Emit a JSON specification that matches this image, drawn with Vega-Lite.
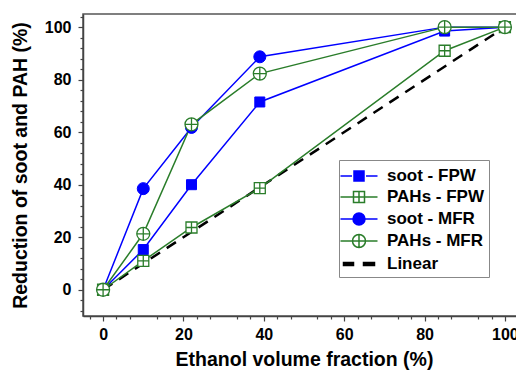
{
  "$schema": "https://vega.github.io/schema/vega-lite/v6.json",
  "autosize": {"type": "none"},
  "padding": {"left": 83, "top": 14, "right": 0, "bottom": 57},
  "width": 442,
  "height": 302,
  "background": "white",
  "config": {
    "view": {"stroke": "#555", "strokeWidth": 1.5},
    "axis": {
      "grid": false,
      "domainColor": "#444",
      "domainWidth": 1.5,
      "tickColor": "#444",
      "tickWidth": 1.2,
      "labelFont": "Liberation Sans",
      "labelFontSize": 16,
      "labelFontWeight": "bold",
      "labelColor": "black",
      "titleFont": "Liberation Sans",
      "titleFontSize": 19.5,
      "titleFontWeight": "bold",
      "titleColor": "black"
    },
    "legend": {
      "title": null, "orient": "none", "legendX": 256, "legendY": 146, "symbolSize": 400, "symbolStrokeWidth": 1.5,
      "labelFont": "Liberation Sans", "labelFontSize": 17, "labelFontWeight": "bold", "labelColor": "black",
      "padding": 5, "strokeColor": "#888", "fillColor": "white", "rowPadding": 2, "labelOffset": 17, "symbolOffset": 4
    }
  },
  "data": {
    "values": [
      {"series": "soot - FPW", "x": 0, "y": 0},
      {"series": "soot - FPW", "x": 10, "y": 15.3},
      {"series": "soot - FPW", "x": 22, "y": 40},
      {"series": "soot - FPW", "x": 39, "y": 71.5},
      {"series": "soot - FPW", "x": 85, "y": 98.5},
      {"series": "soot - FPW", "x": 100, "y": 100},
      {"series": "PAHs - FPW", "x": 0, "y": 0},
      {"series": "PAHs - FPW", "x": 10, "y": 11},
      {"series": "PAHs - FPW", "x": 22, "y": 23.7},
      {"series": "PAHs - FPW", "x": 39, "y": 38.7},
      {"series": "PAHs - FPW", "x": 85, "y": 91},
      {"series": "PAHs - FPW", "x": 100, "y": 100},
      {"series": "soot - MFR", "x": 0, "y": 0},
      {"series": "soot - MFR", "x": 10, "y": 38.5},
      {"series": "soot - MFR", "x": 22, "y": 61.8},
      {"series": "soot - MFR", "x": 39, "y": 88.7},
      {"series": "soot - MFR", "x": 85, "y": 100},
      {"series": "soot - MFR", "x": 100, "y": 100},
      {"series": "PAHs - MFR", "x": 0, "y": 0},
      {"series": "PAHs - MFR", "x": 10, "y": 21.3},
      {"series": "PAHs - MFR", "x": 22, "y": 63},
      {"series": "PAHs - MFR", "x": 39, "y": 82.3},
      {"series": "PAHs - MFR", "x": 85, "y": 100},
      {"series": "PAHs - MFR", "x": 100, "y": 100},
      {"series": "Linear", "x": 0, "y": 0},
      {"series": "Linear", "x": 100, "y": 100}
    ]
  },
  "resolve": {"axis": {"x": "independent", "y": "independent"}},
  "layer": [
    {
      "transform": [{"filter": "datum.series === 'Linear'"}],
      "mark": {"type": "line", "color": "black", "strokeWidth": 2.5, "strokeDash": [11, 8], "clip": true},
      "encoding": {
        "x": {"field": "x", "type": "quantitative", "scale": {"domain": [-5, 105], "nice": false, "zero": false},
          "axis": {"values": [0, 20, 40, 60, 80, 100], "tickSize": 5, "labelPadding": 5, "title": "Ethanol volume fraction (%)", "titlePadding": 8, "orient": "bottom"}},
        "y": {"field": "y", "type": "quantitative", "scale": {"domain": [-10, 105], "nice": false, "zero": false},
          "axis": {"values": [0, 20, 40, 60, 80, 100], "tickSize": 5, "labelPadding": 7, "title": "Reduction of soot and PAH (%)", "titlePadding": 14, "orient": "left"}}
      }
    },
    {
      "transform": [{"filter": "datum.series !== 'Linear'"}],
      "mark": {"type": "line", "strokeWidth": 1.5, "clip": true},
      "encoding": {
        "x": {"field": "x", "type": "quantitative", "axis": null},
        "y": {"field": "y", "type": "quantitative", "axis": null},
        "detail": {"field": "series"},
        "color": {"field": "series", "type": "nominal", "legend": null,
          "scale": {"domain": ["soot - FPW", "PAHs - FPW", "soot - MFR", "PAHs - MFR"], "range": ["#0000ff", "#2a7d2a", "#0000ff", "#2a7d2a"]}}
      }
    },
    {
      "transform": [{"filter": "datum.series === 'soot - FPW'"}],
      "mark": {"type": "point", "shape": "square", "size": 100, "filled": true, "fill": "#0000ff", "stroke": "#0000ff", "strokeWidth": 1, "opacity": 1},
      "encoding": {
        "x": {"field": "x", "type": "quantitative", "axis": null},
        "y": {"field": "y", "type": "quantitative", "axis": null}
      }
    },
    {
      "transform": [{"filter": "datum.series === 'PAHs - FPW'"}],
      "mark": {"type": "point", "shape": "M-1,-1H1V1H-1Z M-1,0H1 M0,-1V1", "size": 121, "filled": true, "fill": "white", "stroke": "#2a7d2a", "strokeWidth": 1.3, "opacity": 1},
      "encoding": {
        "x": {"field": "x", "type": "quantitative", "axis": null},
        "y": {"field": "y", "type": "quantitative", "axis": null}
      }
    },
    {
      "transform": [{"filter": "datum.series === 'soot - MFR'"}],
      "mark": {"type": "point", "shape": "circle", "size": 144, "filled": true, "fill": "#0000ff", "stroke": "#0000ff", "strokeWidth": 1, "opacity": 1},
      "encoding": {
        "x": {"field": "x", "type": "quantitative", "axis": null},
        "y": {"field": "y", "type": "quantitative", "axis": null}
      }
    },
    {
      "transform": [{"filter": "datum.series === 'PAHs - MFR'"}],
      "mark": {"type": "point", "shape": "M-1,0A1,1 0 1,0 1,0A1,1 0 1,0 -1,0Z M-1,0H1 M0,-1V1", "size": 169, "filled": true, "fill": "white", "stroke": "#2a7d2a", "strokeWidth": 1.3, "opacity": 1},
      "encoding": {
        "x": {"field": "x", "type": "quantitative", "axis": null},
        "y": {"field": "y", "type": "quantitative", "axis": null}
      }
    },
    {
      "mark": {"type": "point", "filled": true, "opacity": 0, "size": 400},
      "encoding": {
        "x": {"field": "x", "type": "quantitative",
          "axis": {"orient": "bottom", "values": [-3.333, 3.333, 6.667, 13.333, 16.667, 23.333, 26.667, 33.333, 36.667, 43.333, 46.667, 53.333, 56.667, 63.333, 66.667, 73.333, 76.667, 83.333, 86.667, 93.333, 96.667, 103.333], "labels": false, "domain": false, "tickSize": 3, "title": null}},
        "y": {"field": "y", "type": "quantitative",
          "axis": {"orient": "left", "values": [-8, -4, 4, 8, 12, 16, 24, 28, 32, 36, 44, 48, 52, 56, 64, 68, 72, 76, 84, 88, 92, 96, 104], "labels": false, "domain": false, "tickSize": 3, "title": null}},
        "shape": {"field": "series", "type": "nominal",
          "scale": {"domain": ["soot - FPW", "PAHs - FPW", "soot - MFR", "PAHs - MFR", "Linear"],
            "range": [
              "M-1.85,0H-0.7M0.7,0H1.85M-0.5,-0.5H0.5V0.5H-0.5Z",
              "M-1.85,0H-0.55M0.55,0H1.85M-0.55,-0.55H0.55V0.55H-0.55Z M-0.55,0H0.55M0,-0.55V0.55",
              "M-1.85,0H-0.6M0.6,0H1.85M-0.6,0A0.6,0.6 0 1,0 0.6,0A0.6,0.6 0 1,0 -0.6,0Z",
              "M-1.85,0H-0.65M0.65,0H1.85M-0.65,0A0.65,0.65 0 1,0 0.65,0A0.65,0.65 0 1,0 -0.65,0Z M-0.65,0H0.65M0,-0.65V0.65",
              "M-1.55,-0.15H-0.55V0.15H-1.55Z M0.45,-0.15H1.55V0.15H0.45Z"
            ]},
          "legend": {"encode": {"symbols": {"update": {"fill": {"scale": "fill", "field": "value"}, "stroke": {"scale": "stroke", "field": "value"}, "opacity": {"value": 1}}}}}},
        "fill": {"field": "series", "type": "nominal",
          "scale": {"domain": ["soot - FPW", "PAHs - FPW", "soot - MFR", "PAHs - MFR", "Linear"], "range": ["#0000ff", "white", "#0000ff", "white", "black"]},
          "legend": {"encode": {"symbols": {"update": {"fill": {"scale": "fill", "field": "value"}, "stroke": {"scale": "stroke", "field": "value"}, "opacity": {"value": 1}}}}}},
        "stroke": {"field": "series", "type": "nominal",
          "scale": {"domain": ["soot - FPW", "PAHs - FPW", "soot - MFR", "PAHs - MFR", "Linear"], "range": ["#0000ff", "#2a7d2a", "#0000ff", "#2a7d2a", "black"]},
          "legend": {"encode": {"symbols": {"update": {"fill": {"scale": "fill", "field": "value"}, "stroke": {"scale": "stroke", "field": "value"}, "opacity": {"value": 1}}}}}}
      }
    }
  ]
}
